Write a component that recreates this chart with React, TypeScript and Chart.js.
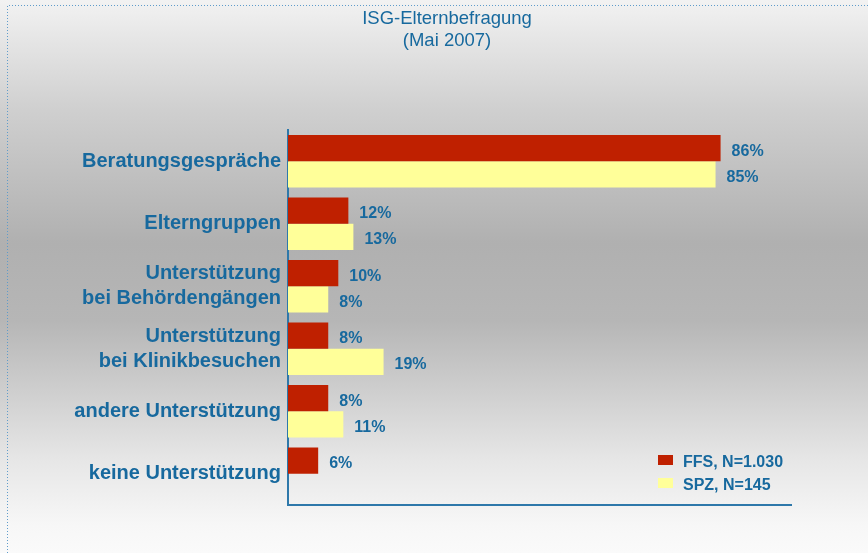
import React, { useEffect, useRef } from "react";
import { Chart, registerables } from "chart.js";

Chart.register(...registerables);

const categories: (string | string[])[] = [
  "Beratungsgespräche",
  "Elterngruppen",
  ["Unterstützung", "bei Behördengängen"],
  ["Unterstützung", "bei Klinikbesuchen"],
  "andere Unterstützung",
  "keine Unterstützung",
];
const ffsValues: (number | null)[] = [86, 12, 10, 8, 8, 6];
const spzValues: (number | null)[] = [85, 13, 8, 19, 11, null];
const seriesLabels = ["FFS, N=1.030", "SPZ, N=145"];
const titleLines = ["ISG-Elternbefragung", "(Mai 2007)"];

const BLUE = "#17699E";
const AXIS = "#2E78AA";
const RED = "#BF2000";
const YELLOW = "#FFFF99";
const FONT = "'Liberation Sans', Arial, sans-serif";

const decorPlugin = {
  id: "decor",
  beforeDraw(chart: any) {
    const { ctx, width, height } = chart;
    ctx.save();
    const g = ctx.createLinearGradient(0, 0, 0, height);
    g.addColorStop(0, "#f2f2f2");
    g.addColorStop(0.2, "#cfcfcf");
    g.addColorStop(0.44, "#b0b0b0");
    g.addColorStop(0.58, "#b6b6b6");
    g.addColorStop(0.83, "#e6e6e6");
    g.addColorStop(0.95, "#f7f7f7");
    g.addColorStop(1, "#fafafa");
    ctx.fillStyle = g;
    ctx.fillRect(0, 0, width, height);
    ctx.strokeStyle = "#5f9ccb";
    ctx.lineWidth = 1;
    ctx.setLineDash([1, 2]);
    ctx.beginPath();
    ctx.moveTo(7.5, height);
    ctx.lineTo(7.5, 5.5);
    ctx.lineTo(width, 5.5);
    ctx.stroke();
    ctx.setLineDash([]);
    // title
    ctx.fillStyle = BLUE;
    ctx.font = `18.5px ${FONT}`;
    ctx.textAlign = "center";
    ctx.textBaseline = "alphabetic";
    ctx.fillText(titleLines[0], 447, 24);
    ctx.fillText(titleLines[1], 447, 46);
    ctx.restore();
  },
  afterDatasetsDraw(chart: any) {
    const { ctx } = chart;
    ctx.save();
    ctx.fillStyle = BLUE;
    ctx.font = `bold 16px ${FONT}`;
    ctx.textAlign = "left";
    ctx.textBaseline = "middle";
    chart.data.datasets.forEach((ds: any, di: number) => {
      const meta = chart.getDatasetMeta(di);
      meta.data.forEach((bar: any, i: number) => {
        const v = ds.data[i];
        if (v === null || v === undefined) return;
        ctx.fillText(`${v}%`, bar.x + 11, bar.y + 3);
      });
    });
    // legend
    const lx = 658;
    const rows = [
      { y: 455, ty: 467, color: RED },
      { y: 478, ty: 490, color: YELLOW },
    ];
    rows.forEach((r, i) => {
      ctx.fillStyle = r.color;
      ctx.fillRect(lx, r.y, 15, 10);
      ctx.fillStyle = BLUE;
      ctx.textBaseline = "alphabetic";
      ctx.fillText(seriesLabels[i], 683, r.ty);
    });
    ctx.restore();
  },
};

export default function App() {
  const ref = useRef<HTMLCanvasElement>(null);
  useEffect(() => {
    document.body.style.margin = "0";
    const chart = new Chart(ref.current!, {
      type: "bar",
      data: {
        labels: categories,
        datasets: [
          {
            label: seriesLabels[0],
            data: ffsValues,
            backgroundColor: RED,
            categoryPercentage: 0.84,
            barPercentage: 1,
          },
          {
            label: seriesLabels[1],
            data: spzValues,
            backgroundColor: YELLOW,
            categoryPercentage: 0.84,
            barPercentage: 1,
          },
        ],
      },
      options: {
        indexAxis: "y",
        animation: false,
        responsive: false,
        layout: { padding: { top: 130, right: 77, bottom: 48, left: 0 } },
        plugins: { legend: { display: false }, tooltip: { enabled: false }, title: { display: false } },
        scales: {
          x: {
            min: 0,
            max: 100,
            grid: { display: false, drawTicks: false },
            ticks: { display: false },
            border: { display: true, color: AXIS, width: 2 },
            afterFit: (s: any) => {
              s.height = 0;
            },
          },
          y: {
            grid: { display: false, drawTicks: false },
            border: { display: true, color: AXIS, width: 2 },
            ticks: {
              color: BLUE,
              font: { family: FONT, size: 20, weight: "bold", lineHeight: 1.25 },
              padding: 7,
            },
            afterFit: (s: any) => {
              s.width = 288;
            },
          },
        },
      },
      plugins: [decorPlugin],
    } as any);
    return () => chart.destroy();
  }, []);
  return <canvas ref={ref} width={868} height={553} style={{ display: "block" }} />;
}
